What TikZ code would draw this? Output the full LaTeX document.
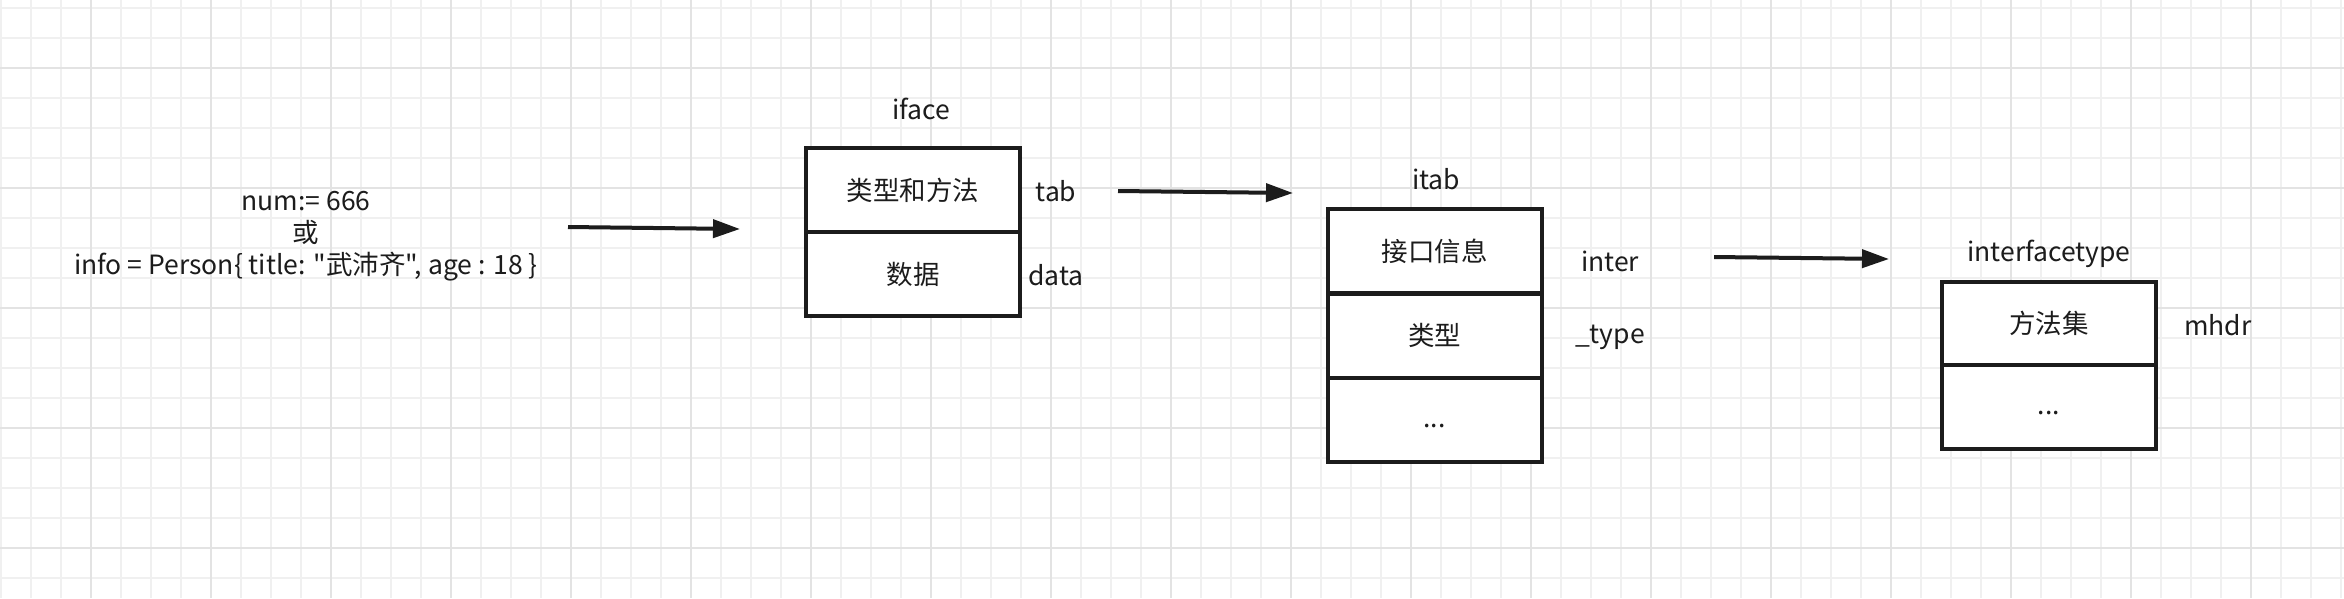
\documentclass[tikz,border=0pt]{standalone}
\usepackage{fontspec}
\setmainfont{Noto Sans CJK SC}[Ligatures=TeXOff]
\usetikzlibrary{arrows.meta}
\definecolor{gridminor}{HTML}{F0F0F0}
\definecolor{gridmajor}{HTML}{E3E3E3}
\definecolor{ink}{HTML}{1C1C1C}
\begin{document}
\begin{tikzpicture}[x=1pt,y=-1pt,
  cell/.style={draw=ink, line width=4pt, fill=white, minimum width=214pt, minimum height=84pt, inner sep=0pt, text=ink, font=\fontsize{26.5}{32}\selectfont},
  lbl/.style={text=ink, font=\fontsize{26.5}{32}\selectfont, inner sep=0pt},
  arr/.style={draw=ink, line width=4pt, -{Triangle[length=27pt,width=18pt]}}]
\useasboundingbox (0,0) rectangle (2344,598);
\fill[white] (0,0) rectangle (2344,598);
% grid
\foreach \x in {1,31,...,2343} \draw[gridminor, line width=2pt] (\x,0) -- (\x,598);
\foreach \y in {8,38,...,597} \draw[gridminor, line width=2pt] (0,\y) -- (2344,\y);
\foreach \x in {91,211,...,2343} \draw[gridmajor, line width=2pt] (\x,0) -- (\x,598);
\foreach \y in {68,188,...,597} \draw[gridmajor, line width=2pt] (0,\y) -- (2344,\y);

% left expression
\node[lbl, align=center] (expr) at (306,236) {num:= 666\\或\\info = Person\{ title: "武沛齐", age : 18 \}};

% iface
\node[lbl] (ifacelbl) at (921,109) {iface};
\node[cell] (tabcell) at (913,190) {类型和方法};
\node[cell] (datacell) at (913,274) {数据};
\node[lbl] (tablbl) at (1056,191) {tab};
\node[lbl] (datalbl) at (1056,275) {data};

% itab
\node[lbl] (itablbl) at (1436,179) {itab};
\node[cell] (intercell) at (1434.5,251.3) {接口信息};
\node[cell] (typecell) at (1434.5,335.7) {类型};
\node[cell] (restcell) at (1434.5,420) {};
\node[lbl] (restdots) at ([yshift=-6pt]restcell.center) {...};
\node[lbl] (interlbl) at (1610,261) {inter};
\node[lbl] (typelbl) at (1610,337) {\_type};

% interfacetype
\node[lbl] (itypelbl) at (2049,254) {interfacetype};
\node[cell] (mhdrcell) at (2049,323.5) {方法集};
\node[cell] (rest2cell) at (2049,407.3) {};
\node[lbl] (rest2dots) at ([yshift=-6pt]rest2cell.center) {...};
\node[lbl] (mhdrlbl) at (2218,325) {mhdr};

% arrows
\coordinate (a1s) at (568,227);
\coordinate (a1e) at (740,229);
\coordinate (a2s) at (1118,191);
\coordinate (a2e) at (1293,193);
\coordinate (a3s) at (1714,257);
\coordinate (a3e) at (1889,259);
\draw[arr] (a1s) -- (a1e);
\draw[arr] (a2s) -- (a2e);
\draw[arr] (a3s) -- (a3e);
\end{tikzpicture}
\end{document}
